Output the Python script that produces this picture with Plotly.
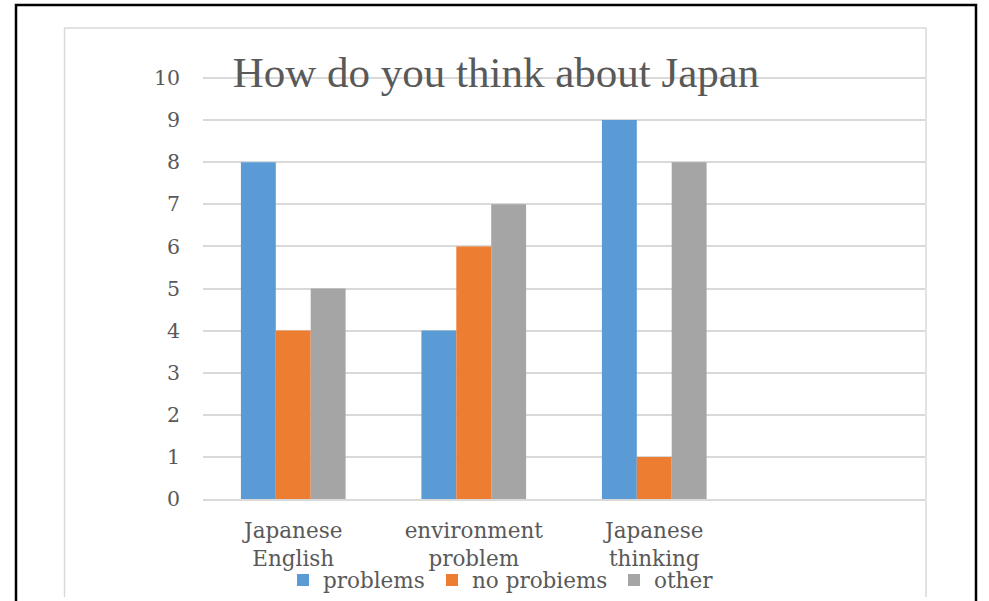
import plotly.graph_objects as go

categories = ["Japanese<br>English", "environment<br>problem", "Japanese<br>thinking"]
series_names = ["problems", "no probiems", "other"]
problems = [8, 4, 9]
no_problems = [4, 6, 1]
other = [5, 7, 8]
y_ticks = list(range(0, 11))

colors = ["#5b9bd5", "#ed7d31", "#a5a5a5"]
FONT = "DejaVu Serif"
TITLE_FONT = "Liberation Serif"
TXT = "#595959"

W, H = 989, 601
L, R, T, B = 203, 64, 76, 102
pw, ph = W - L - R, H - T - B
y0_px, y10_px = 499, 78
y_top = 10 * (y0_px - T) / (y0_px - y10_px)  # keeps the 10 gridline just inside the plot


def px(x):
    return (x - L) / pw


def py(y):
    return (H - B - y) / ph


legend_ids = ["legend", "legend2", "legend3"]
legend_x = [283, 432, 614]

fig = go.Figure()
for name, vals, c, lid in zip(series_names, [problems, no_problems, other], colors, legend_ids):
    fig.add_trace(go.Bar(x=categories, y=vals, name=name, legend=lid,
                         marker=dict(color=c, line=dict(width=0))))

shapes = [
    # outer black frame
    dict(type="rect", xref="paper", yref="paper",
         x0=px(16), x1=px(976), y0=py(606), y1=py(5),
         line=dict(color="black", width=2.5), layer="below"),
    # inner chart area border (left, top, right)
    dict(type="path", xref="paper", yref="paper",
         path=f"M {px(64.5)},{py(597)} L {px(64.5)},{py(28)} L {px(926)},{py(28)} L {px(926)},{py(597)}",
         line=dict(color="#d9d9d9", width=1.5), layer="below"),
]

legend_common = dict(orientation="h", yanchor="middle", y=py(580), xanchor="left",
                     font=dict(family=FONT, size=21.5, color=TXT),
                     bgcolor="rgba(0,0,0,0)", borderwidth=0, itemwidth=30)

fig.update_layout(
    width=W, height=H,
    margin=dict(l=L, r=R, t=T, b=B, autoexpand=False),
    paper_bgcolor="white", plot_bgcolor="white",
    font=dict(family=FONT, color=TXT, size=22),
    title=dict(text="How do you think about Japan", x=496 / W, xanchor="center",
               y=1 - 72 / H, yanchor="middle", yref="container",
               font=dict(family=TITLE_FONT, size=43, color=TXT)),
    barmode="group", bargap=0.42, bargroupgap=0,
    showlegend=True,
    legend=dict(x=px(legend_x[0]), **legend_common),
    legend2=dict(x=px(legend_x[1]), **legend_common),
    legend3=dict(x=px(legend_x[2]), **legend_common),
    shapes=shapes,
    xaxis=dict(type="category", range=[-0.5, 3.5], showgrid=False, showline=True,
               linecolor="#d9d9d9", linewidth=1.5, ticks="", ticklabelstandoff=11,
               tickfont=dict(family=FONT, size=21.5, color=TXT), fixedrange=True,
               automargin=False),
    yaxis=dict(range=[0, y_top], tickvals=y_ticks, showgrid=True, gridcolor="#d9d9d9",
               gridwidth=1.5, zeroline=False, showline=False, ticks="",
               ticklabelstandoff=22, tickfont=dict(family=FONT, size=20.5, color=TXT),
               fixedrange=True, automargin=False),
)

fig.write_html("out.html", config={"displayModeBar": False},
               post_script="document.body.style.margin='0px';")
